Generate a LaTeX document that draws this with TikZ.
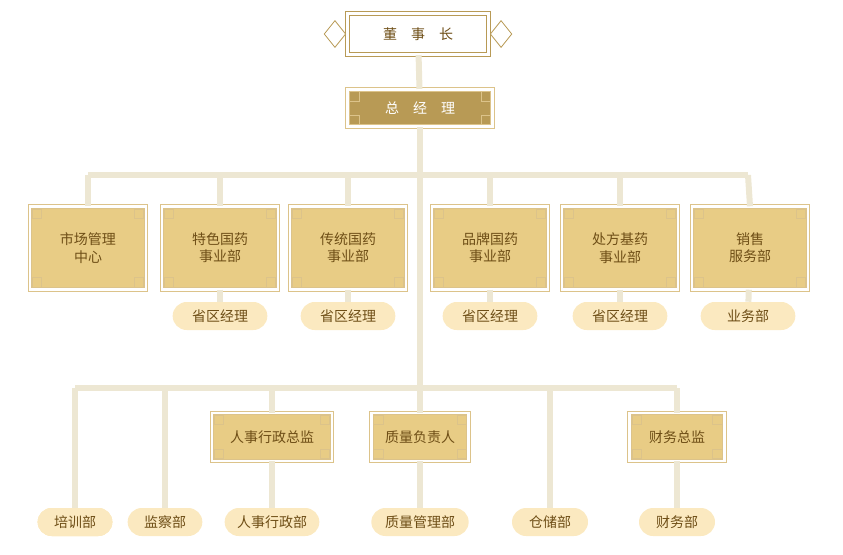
\documentclass[tikz,border=0pt]{standalone}
\usepackage{fontspec}
\setmainfont{Noto Sans CJK SC}
\usetikzlibrary{positioning}
\definecolor{linec}{HTML}{EDE7D3}
\definecolor{goldd}{HTML}{B89A55}
\definecolor{goldm}{HTML}{E8CC85}
\definecolor{goldl}{HTML}{FBE9C0}
\definecolor{goldo}{HTML}{DCC38A}
\definecolor{txt}{HTML}{6E4E16}
\tikzset{
  conn/.style={draw=linec, line width=4.5pt},
  frame/.style={fill=goldm, draw=goldo, double=white, double distance=2.2pt, line width=0.6pt,
    text=txt, font=\fontsize{10.5}{13}\selectfont, align=center, inner sep=0pt},
  pill/.style={fill=goldl, rounded corners=10.5pt, text=txt, minimum height=21pt,
    font=\fontsize{10.5}{13}\selectfont, inner sep=0pt},
  mid/.style={frame, minimum width=87pt, minimum height=62pt},
  sub/.style={frame, minimum height=36pt},
}
\newcommand{\corners}[1]{%
  \foreach \a/\sx/\sy in {north west/1/-1, north east/-1/-1, south west/1/1, south east/-1/1}
    \draw[goldo, line width=0.6pt] ([xshift=\sx*2pt, yshift=\sy*2pt]#1.\a) rectangle ++(\sx*7pt, \sy*7pt);}
\begin{document}
\begin{tikzpicture}[x=0.75pt, y=-0.75pt]
\useasboundingbox (0,0) rectangle (843,554);
% connectors
\coordinate (bar1l) at (88,175); \coordinate (bar1r) at (748,175);
\coordinate (bar2l) at (75,388); \coordinate (bar2r) at (677,388);
\coordinate (trunk) at (420,388);
\draw[conn] (bar1l) -- (bar1r);
\draw[conn] (bar2l) -- (bar2r);
% top
\node[frame, fill=white, draw=goldd, minimum width=106pt, minimum height=31pt] (chair) at (418,34) {董\hspace{1em}事\hspace{1em}长};
\foreach \s in {-1,1}
  \draw[goldd, line width=0.6pt, fill=white] ([xshift=\s*1pt]chair.\ifnum\s<0 west\else east\fi) -- ++(\s*8pt,-10pt) -- ++(\s*8pt,10pt) -- ++(-\s*8pt,10pt) -- cycle;
\node[frame, fill=goldd, text=white, minimum width=109pt, minimum height=28pt] (gm) at (420,108) {总\hspace{1em}经\hspace{1em}理};
\corners{gm}
\draw[conn] (chair) -- (gm);
\draw[conn] (gm) -- (trunk);
% middle row
\node[mid] (m1) at (88,248) {市场管理\\中心};
\node[mid] (m2) at (220,248) {特色国药\\事业部};
\node[mid] (m3) at (348,248) {传统国药\\事业部};
\node[mid] (m4) at (490,248) {品牌国药\\事业部};
\node[mid] (m5) at (620,248) {处方基药\\事业部};
\node[mid] (m6) at (750,248) {销售\\服务部};
\foreach \n/\x in {m1/88,m2/220,m3/348,m4/490,m5/620,m6/748}{
  \draw[conn] (\x,175) -- (\n.north);
  \corners{\n}}
\node[pill, minimum width=71pt] (p2) at (220,316) {省区经理};
\node[pill, minimum width=71pt] (p3) at (348,316) {省区经理};
\node[pill, minimum width=71pt] (p4) at (490,316) {省区经理};
\node[pill, minimum width=71pt] (p5) at (620,316) {省区经理};
\node[pill, minimum width=71pt] (p6) at (748,316) {业务部};
\foreach \i in {2,...,6} \draw[conn] (m\i) -- (p\i);
% lower row
\node[sub, minimum width=90pt] (s1) at (272,437) {人事行政总监};
\node[sub, minimum width=73pt] (s2) at (420,437) {质量负责人};
\node[sub, minimum width=71pt] (s3) at (677,437) {财务总监};
\foreach \i in {1,2,3} \corners{s\i}
\node[pill, minimum width=56pt] (b1) at (75,522) {培训部};
\node[pill, minimum width=56pt] (b2) at (165,522) {监察部};
\node[pill, minimum width=71pt] (b3) at (272,522) {人事行政部};
\node[pill, minimum width=73pt] (b4) at (420,522) {质量管理部};
\node[pill, minimum width=57pt] (b5) at (550,522) {仓储部};
\node[pill, minimum width=57pt] (b6) at (677,522) {财务部};
\draw[conn] (bar2l) -- (b1);
\draw[conn] (165,388) -- (b2);
\draw[conn] (550,388) -- (b5);
\draw[conn] (272,388) -- (s1); \draw[conn] (s1) -- (b3);
\draw[conn] (trunk) -- (s2); \draw[conn] (s2) -- (b4);
\draw[conn] (bar2r) -- (s3); \draw[conn] (s3) -- (b6);
\end{tikzpicture}
\end{document}
